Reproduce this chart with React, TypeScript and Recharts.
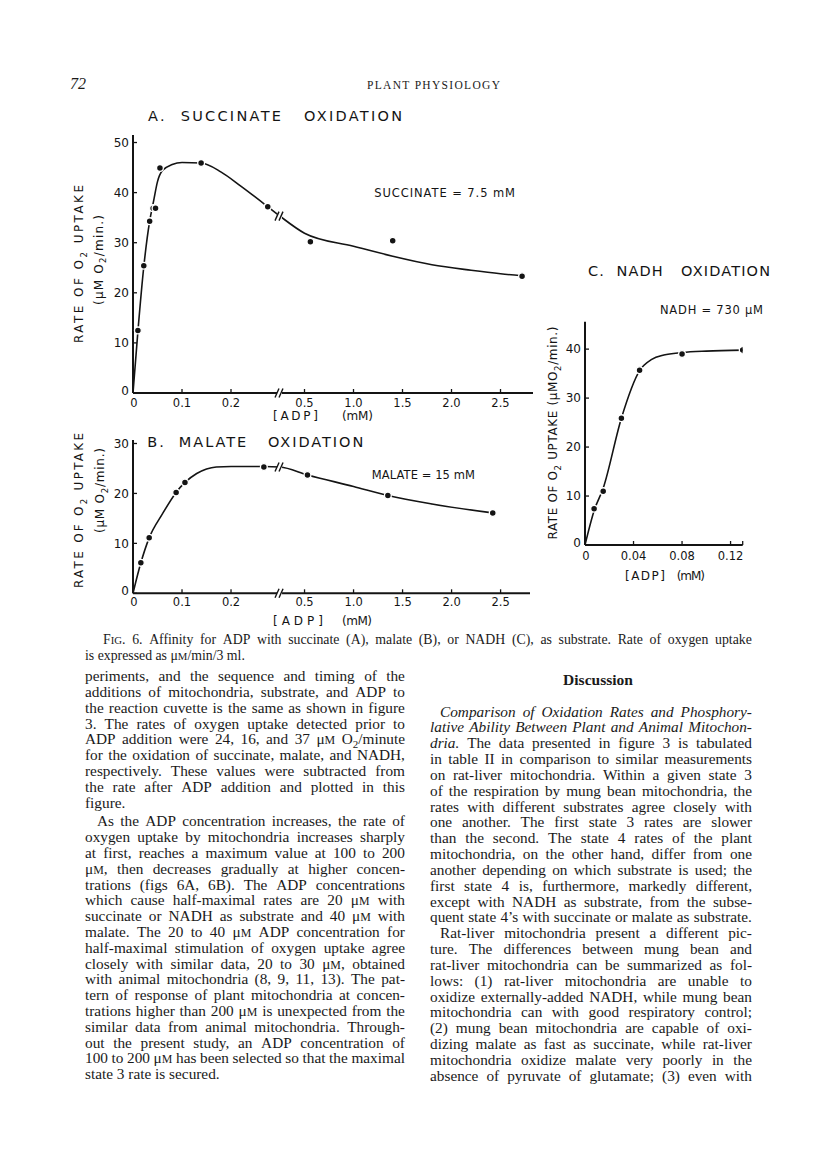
import React from 'react';
import { LineChart, Line, XAxis, YAxis } from 'recharts';

// ---------------- Panel A: succinate oxidation ----------------
const succinatePtsLeftX = [0.010, 0.022, 0.034, 0.041, 0.046, 0.055, 0.139, 0.275];
const succinatePtsLeftY = [12.5, 25.4, 34.3, 36.9, 36.9, 44.9, 45.9, 37.2];
const succinatePtsRightX = [0.56, 1.40, 2.72];
const succinatePtsRightY = [30.2, 30.4, 23.3];
const succinateCurveLeftX = [0, 0.01, 0.022, 0.034, 0.042, 0.05, 0.06, 0.08, 0.1, 0.139, 0.18, 0.22, 0.275, 0.3];
const succinateCurveLeftY = [0, 12.3, 25.2, 34.3, 38.3, 42.2, 44.4, 45.6, 46.0, 45.9, 44.1, 41.3, 37.2, 35.3];
const succinateCurveRightX = [0.5, 1.0, 1.4, 1.8, 2.2, 2.5, 2.72];
const succinateCurveRightY = [31.9, 29.3, 27.3, 25.6, 24.5, 23.8, 23.4];

// ---------------- Panel B: malate oxidation ----------------
const malatePtsLeftX = [0.016, 0.033, 0.088, 0.106, 0.267];
const malatePtsLeftY = [6.1, 11.1, 20.2, 22.2, 25.3];
const malatePtsRightX = [0.53, 1.35, 2.42];
const malatePtsRightY = [23.7, 19.6, 16.1];
const malateCurveLeftX = [0, 0.016, 0.033, 0.06, 0.088, 0.106, 0.13, 0.15, 0.17, 0.2, 0.267, 0.3];
const malateCurveLeftY = [0, 6.1, 11.1, 15.9, 20.2, 22.2, 24.0, 24.9, 25.3, 25.4, 25.4, 25.3];
const malateCurveRightX = [0.53, 1.0, 1.35, 1.8, 2.42];
const malateCurveRightY = [23.7, 21.4, 19.6, 17.9, 16.1];

// ---------------- Panel C: NADH oxidation ----------------
const nadhPtsX = [0.0075, 0.015, 0.03, 0.045, 0.08, 0.13];
const nadhPtsY = [7.4, 11.0, 25.9, 35.7, 39.0, 39.8];
const nadhCurveX = [0, 0.0075, 0.015, 0.03, 0.045, 0.055, 0.065, 0.08, 0.1, 0.13];
const nadhCurveY = [0, 7.0, 11.6, 25.9, 35.6, 37.9, 38.8, 39.3, 39.6, 39.8];

// ---------------- Axis ticks ----------------
const adpLeftTicks = [0, 0.1, 0.2];
const adpLeftLabels = ['0', '0.1', '0.2'];
const adpRightTicks = [0.5, 1.0, 1.5, 2.0, 2.5];
const adpRightLabels = ['0.5', '1.0', '1.5', '2.0', '2.5'];
const nadhXTicks = [0, 0.04, 0.08, 0.12, 0.13];
const nadhXLabels = ['0', '0.04', '0.08', '0.12', ''];
const succinateYTicks = [0, 10, 20, 30, 40, 50];
const malateYTicks = [0, 10, 20, 30];
const nadhYTicks = [0, 10, 20, 30, 40];

// broken x axis: left part linear in mM, right part compressed 5x
const BREAK_U = 0.3;
const BREAK_MM = 0.25;
const RIGHT_FACTOR = 5;
const uL = (x: number) => x;
const uR = (x: number) => BREAK_U + (x - BREAK_MM) / RIGHT_FACTOR;

type Pt = { u: number; v: number; brk?: boolean };
function buildSeries(lx: number[], ly: number[], rx: number[], ry: number[]): Pt[] {
  const a: Pt[] = lx.map((x, i) => ({ u: uL(x), v: ly[i], brk: Math.abs(x - BREAK_U) < 1e-9 }));
  const b: Pt[] = rx.map((x, i) => ({ u: uR(x), v: ry[i] }));
  return [...a, ...b];
}
const succinatePts = buildSeries(succinatePtsLeftX, succinatePtsLeftY, succinatePtsRightX, succinatePtsRightY).map(p => ({ ...p, brk: false }));
const succinateCurve = buildSeries(succinateCurveLeftX, succinateCurveLeftY, succinateCurveRightX, succinateCurveRightY);
const malatePts = buildSeries(malatePtsLeftX, malatePtsLeftY, malatePtsRightX, malatePtsRightY).map(p => ({ ...p, brk: false }));
const malateCurve = buildSeries(malateCurveLeftX, malateCurveLeftY, malateCurveRightX, malateCurveRightY);
const nadhPts: Pt[] = nadhPtsX.map((x, i) => ({ u: x, v: nadhPtsY[i] }));
const nadhCurve: Pt[] = nadhCurveX.map((x, i) => ({ u: x, v: nadhCurveY[i] }));

const adpTickU = [...adpLeftTicks.map(uL), BREAK_U, ...adpRightTicks.map(uR)];
const adpTickLab = [...adpLeftLabels, '//', ...adpRightLabels];

const SANS = '"DejaVu Sans", "Noto Sans", sans-serif';
const SERIF = '"Liberation Serif", "Times New Roman", serif';
const INK = '#141414';
const TXT = '#1a1a1a';

function labelFor(v: number, ticks: number[], labels: string[]): string {
  const i = ticks.findIndex(t => Math.abs(t - v) < 1e-7);
  return i >= 0 ? labels[i] : '';
}

function Slashes({ x, y }: { x: number; y: number }) {
  return (
    <g>
      <rect x={x - 3} y={y - 2.5} width={5} height={5} fill="#fff" />
      <line x1={x - 5} y1={y + 4.5} x2={x - 1} y2={y - 4.5} stroke={INK} strokeWidth={1.4} />
      <line x1={x - 1} y1={y + 4.5} x2={x + 3} y2={y - 4.5} stroke={INK} strokeWidth={1.4} />
    </g>
  );
}

function makeXTick(ticks: number[], labels: string[], labelDy: number) {
  return (props: any) => {
    const { x, y, payload } = props;
    const lab = labelFor(payload.value, ticks, labels);
    if (lab === '//') return <Slashes x={x} y={y} />;
    return (
      <g>
        <line x1={x} y1={y} x2={x} y2={y - 4} stroke={INK} strokeWidth={1.3} />
        {lab ? (
          <text x={payload.value === 0 ? x + 1 : x} y={y + labelDy} textAnchor="middle" fontFamily={SANS} fontSize={11.5} fill={INK}>{lab}</text>
        ) : null}
      </g>
    );
  };
}

function makeYTick() {
  return (props: any) => {
    const { x, y, payload } = props;
    return (
      <g>
        <line x1={x} y1={y} x2={x + 4} y2={y} stroke={INK} strokeWidth={1.3} />
        <text x={x - 4} y={y + (payload.value === 0 ? 2 : 4.3)} textAnchor="end" fontFamily={SANS} fontSize={12} fill={INK}>{payload.value}</text>
      </g>
    );
  };
}

const breakDot = (props: any) => {
  const { cx, cy, payload, index } = props;
  if (!payload || !payload.brk) return <g key={`d${index}`} />;
  return <g key={`d${index}`}><Slashes x={cx} y={cy} /></g>;
};

const ptDot = { r: 3.4, fill: INK, stroke: '#fff', strokeWidth: 1.3 };

type PanelProps = {
  left: number; top: number; width: number; height: number;
  margin: { top: number; right: number; bottom: number; left: number };
  yWidth: number; xMax: number; yMax: number;
  xTicks: number[]; xLabels: string[]; yTicks: number[]; labelDy: number;
  curve: Pt[]; pts: Pt[];
};

function Panel(p: PanelProps) {
  return (
    <div style={{ position: 'absolute', left: p.left, top: p.top }}>
      <LineChart width={p.width} height={p.height} margin={p.margin}>
        <XAxis
          type="number" dataKey="u" domain={[0, p.xMax]} ticks={p.xTicks} interval={0}
          allowDataOverflow tickLine={false} tickSize={0} tickMargin={0} height={30}
          axisLine={{ stroke: INK, strokeWidth: 2 }}
          tick={makeXTick(p.xTicks, p.xLabels, p.labelDy)}
        />
        <YAxis
          type="number" domain={[0, p.yMax]} ticks={p.yTicks} interval={0}
          allowDataOverflow tickLine={false} tickSize={0} tickMargin={0} width={p.yWidth}
          axisLine={{ stroke: INK, strokeWidth: 2 }}
          tick={makeYTick()}
        />
        <Line data={p.curve} dataKey="v" type="monotone" stroke={INK} strokeWidth={1.6}
          dot={breakDot} activeDot={false} isAnimationActive={false} />
        <Line data={p.pts} dataKey="v" stroke="none" dot={ptDot}
          activeDot={false} isAnimationActive={false} />
      </LineChart>
    </div>
  );
}

// ---------------- Page text ----------------
type L = { t: string; indent?: number; last?: boolean; it?: number };
const leftColumn: L[] = [
  { t: 'periments, and the sequence and timing of the' },
  { t: 'additions of mitochondria, substrate, and ADP to' },
  { t: 'the reaction cuvette is the same as shown in figure' },
  { t: '3. The rates of oxygen uptake detected prior to' },
  { t: 'ADP addition were 24, 16, and 37 μM O₂/minute' },
  { t: 'for the oxidation of succinate, malate, and NADH,' },
  { t: 'respectively. These values were subtracted from' },
  { t: 'the rate after ADP addition and plotted in this' },
  { t: 'figure.', last: true },
  { t: 'As the ADP concentration increases, the rate of', indent: 12 },
  { t: 'oxygen uptake by mitochondria increases sharply' },
  { t: 'at first, reaches a maximum value at 100 to 200' },
  { t: 'μM, then decreases gradually at higher concen-' },
  { t: 'trations (figs 6A, 6B). The ADP concentrations' },
  { t: 'which cause half-maximal rates are 20 μM with' },
  { t: 'succinate or NADH as substrate and 40 μM with' },
  { t: 'malate. The 20 to 40 μM ADP concentration for' },
  { t: 'half-maximal stimulation of oxygen uptake agree' },
  { t: 'closely with similar data, 20 to 30 μM, obtained' },
  { t: 'with animal mitochondria (8, 9, 11, 13). The pat-' },
  { t: 'tern of response of plant mitochondria at concen-' },
  { t: 'trations higher than 200 μM is unexpected from the' },
  { t: 'similar data from animal mitochondria. Through-' },
  { t: 'out the present study, an ADP concentration of' },
  { t: '100 to 200 μM has been selected so that the maximal' },
  { t: 'state 3 rate is secured.', last: true },
];
const rightColumn: L[] = [
  { t: 'Comparison of Oxidation Rates and Phosphory-', indent: 10, it: 99 },
  { t: 'lative Ability Between Plant and Animal Mitochon-', it: 99 },
  { t: 'dria. The data presented in figure 3 is tabulated', it: 1 },
  { t: 'in table II in comparison to similar measurements' },
  { t: 'on rat-liver mitochondria. Within a given state 3' },
  { t: 'of the respiration by mung bean mitochondria, the' },
  { t: 'rates with different substrates agree closely with' },
  { t: 'one another. The first state 3 rates are slower' },
  { t: 'than the second. The state 4 rates of the plant' },
  { t: 'mitochondria, on the other hand, differ from one' },
  { t: 'another depending on which substrate is used; the' },
  { t: 'first state 4 is, furthermore, markedly different,' },
  { t: 'except with NADH as substrate, from the subse-' },
  { t: 'quent state 4\u2019s with succinate or malate as substrate.' },
  { t: 'Rat-liver mitochondria present a different pic-', indent: 10 },
  { t: 'ture. The differences between mung bean and' },
  { t: 'rat-liver mitochondria can be summarized as fol-' },
  { t: 'lows: (1) rat-liver mitochondria are unable to' },
  { t: 'oxidize externally-added NADH, while mung bean' },
  { t: 'mitochondria can with good respiratory control;' },
  { t: '(2) mung bean mitochondria are capable of oxi-' },
  { t: 'dizing malate as fast as succinate, while rat-liver' },
  { t: 'mitochondria oxidize malate very poorly in the' },
  { t: 'absence of pyruvate of glutamate; (3) even with' },
];
const captionLine1 = 'Fig. 6. Affinity for ADP with succinate (A), malate (B), or NADH (C), as substrate.  Rate of oxygen uptake';
const captionLine2 = 'is expressed as μM/min/3 ml.';

let ctx: CanvasRenderingContext2D | null = null;
function measure(text: string, font: string): number {
  if (typeof document === 'undefined') return text.length * 6;
  if (!ctx) ctx = document.createElement('canvas').getContext('2d');
  if (!ctx) return text.length * 6;
  ctx.font = font;
  return ctx.measureText(text).width;
}

function richWord(w: string, fs: number) {
  const parts = w.split(/(O₂|μM|^Fig\.)/).filter(x => x !== '');
  return parts.map((seg, i) => {
    if (seg === 'O₂') return <React.Fragment key={i}>O<span style={{ fontSize: fs * 0.72, position: 'relative', top: fs * 0.22 }}>2</span></React.Fragment>;
    if (seg === 'μM') return <React.Fragment key={i}>μ<span style={{ fontSize: fs * 0.78 }}>M</span></React.Fragment>;
    if (seg === 'Fig.') return <React.Fragment key={i}>F<span style={{ fontSize: fs * 0.78 }}>IG</span>.</React.Fragment>;
    return <React.Fragment key={i}>{seg}</React.Fragment>;
  });
}

function JLine({ l, x, baseline, width, fs }: { l: L; x: number; baseline: number; width: number; fs: number }) {
  const words = l.t.split(/\s+/);
  const gaps = words.length - 1;
  const font = `${fs}px "Liberation Serif"`;
  const ifont = `italic ${fs}px "Liberation Serif"`;
  const it = l.it || 0;
  let wordsW = 0;
  let chars = 0;
  words.forEach((w, i) => { wordsW += measure(w.replace('₂', '2'), i < it ? ifont : font); chars += w.length; });
  const minGap = fs * 0.2;
  let ls = 0;
  if (!l.last && wordsW + gaps * minGap > width) ls = (width - gaps * minGap - wordsW) / chars;
  return (
    <div style={{
      position: 'absolute', left: x, top: baseline - fs * 0.84, width: l.last ? undefined : width,
      display: 'flex', justifyContent: l.last ? 'flex-start' : 'space-between', columnGap: l.last ? fs * 0.25 : 0,
      whiteSpace: 'nowrap', fontFamily: SERIF, fontSize: fs, lineHeight: `${fs}px`, letterSpacing: ls, color: TXT,
    }}>
      {words.map((w, i) => (
        <span key={i} style={{ fontStyle: i < it ? 'italic' : 'normal' }}>{richWord(w, fs)}</span>
      ))}
    </div>
  );
}

function Column({ lines, x0, x1, y0, step, gapAfter, fs }: { lines: L[]; x0: number; x1: number; y0: number; step: number; gapAfter?: number; fs: number }) {
  let y = y0;
  return (
    <>
      {lines.map((l, i) => {
        const yy = y;
        y += step + (gapAfter !== undefined && i === gapAfter ? 3 : 0);
        const x = x0 + (l.indent || 0);
        return <JLine key={i} l={l} x={x} baseline={yy} width={x1 - x} fs={fs} />;
      })}
    </>
  );
}

function rich(s: string, fs: number) {
  const parts = s.split(/(O₂)/).filter(x => x !== '');
  const out: React.ReactNode[] = [];
  let pending = 0;
  parts.forEach((seg, i) => {
    if (seg === 'O₂') {
      const d = fs * 0.28;
      out.push(<tspan key={i}><tspan dy={pending ? -pending : 0}>O</tspan><tspan dy={d} fontSize={fs * 0.72}>2</tspan></tspan>);
      pending = d;
      return;
    }
    out.push(<tspan key={i} dy={pending ? -pending : undefined}>{seg}</tspan>);
    pending = 0;
  });
  return out;
}

type T = { t: string; x: number; y: number; w?: number; fs: number };
const panelTexts: T[] = [
  { t: 'A.  SUCCINATE   OXIDATION', x: 148, y: 120.7, w: 254, fs: 14.5 },
  { t: 'SUCCINATE = 7.5 mM', x: 374.3, y: 196.7, w: 140.7, fs: 11.5 },
  { t: '[ADP]', x: 273, y: 420, w: 45, fs: 12 },
  { t: '(mM)', x: 342, y: 420, w: 31, fs: 12 },
  { t: 'B.  MALATE   OXIDATION', x: 147.3, y: 446.7, w: 216, fs: 14.5 },
  { t: 'MALATE = 15 mM', x: 371.7, y: 479.3, w: 103.3, fs: 11.5 },
  { t: '[ADP]', x: 273, y: 625, w: 50, fs: 12 },
  { t: '(mM)', x: 342, y: 625, w: 30, fs: 12 },
  { t: 'C.  NADH   OXIDATION', x: 588, y: 275.5, w: 182, fs: 14.5 },
  { t: 'NADH = 730 μM', x: 660, y: 314, w: 103, fs: 11.5 },
  { t: '[ADP]', x: 625, y: 580, w: 40, fs: 12 },
  { t: '(mM)', x: 676.7, y: 580, w: 28.3, fs: 12 },
];
type R = { t: string; cx: number; cy: number; len: number; fs: number };
const rotTexts: R[] = [
  { t: 'RATE OF O₂ UPTAKE', cx: 79, cy: 264, len: 158, fs: 12 },
  { t: '(μM O₂/min.)', cx: 98.5, cy: 260, len: 90, fs: 12 },
  { t: 'RATE OF O₂ UPTAKE', cx: 79, cy: 510.5, len: 155, fs: 12 },
  { t: '(μM O₂/min.)', cx: 100, cy: 490.5, len: 85, fs: 12 },
  { t: 'RATE OF O₂ UPTAKE (μMO₂/min.)', cx: 553, cy: 433, len: 213, fs: 12 },
];

function Overlay() {
  return (
    <svg width={816} height={1152} style={{ position: 'absolute', left: 0, top: 0 }}>
      <text x={70} y={89} fontFamily={SERIF} fontStyle="italic" fontSize={16} fill={TXT}>72</text>
      <text x={367} y={89} fontFamily={SERIF} fontSize={11.5} textLength={133} lengthAdjust="spacing" fill={TXT}>PLANT PHYSIOLOGY</text>
      {panelTexts.map((p, i) => (
        <text key={i} x={p.x} y={p.y} fontFamily={SANS} fontSize={p.fs} fill={INK} style={{ whiteSpace: 'pre' }}
          {...(p.w ? { textLength: p.w, lengthAdjust: 'spacing' } : {})}>
          {rich(p.t, p.fs)}
        </text>
      ))}
      {rotTexts.map((r, i) => (
        <text key={i} x={r.cx} y={r.cy + r.fs * 0.36} textAnchor="middle" fontFamily={SANS} fontSize={r.fs} fill={INK}
          textLength={r.len} lengthAdjust="spacing" transform={`rotate(-90 ${r.cx} ${r.cy})`}>
          {rich(r.t, r.fs)}
        </text>
      ))}
      <text x={598} y={685} textAnchor="middle" fontFamily={SERIF} fontWeight="bold" fontSize={15.5} fill={TXT}>Discussion</text>
    </svg>
  );
}

export default function App() {
  return (
    <div style={{ position: 'absolute', left: 0, top: 0, width: 816, height: 1152, background: '#fff' }}>
      <Overlay />
      <JLine l={{ t: captionLine1 }} x={103} baseline={644.5} width={649} fs={13.8} />
      <JLine l={{ t: captionLine2, last: true }} x={85} baseline={660.5} width={300} fs={13.8} />
      <Column lines={leftColumn} x0={85} x1={405} y0={681} step={15.8} gapAfter={8} fs={15.3} />
      <Column lines={rightColumn} x0={430} x1={752} y0={716.5} step={15.83} fs={15.3} />
      <Panel left={0} top={0} width={560} height={430}
        margin={{ top: 135, right: 27, bottom: 7, left: 0 }} yWidth={133}
        xMax={0.8163} yMax={51.5} xTicks={adpTickU} xLabels={adpTickLab} yTicks={succinateYTicks}
        labelDy={13.5} curve={succinateCurve} pts={succinatePts} />
      <Panel left={0} top={420} width={560} height={220}
        margin={{ top: 20, right: 30, bottom: 16.7, left: 0 }} yWidth={133}
        xMax={0.81} yMax={30.7} xTicks={adpTickU} xLabels={adpTickLab} yTicks={malateYTicks}
        labelDy={12.5} curve={malateCurve} pts={malatePts} />
      <Panel left={530} top={250} width={240} height={350}
        margin={{ top: 71.7, right: 27.3, bottom: 25, left: 0 }} yWidth={55}
        xMax={0.13} yMax={45.6} xTicks={nadhXTicks} xLabels={nadhXLabels} yTicks={nadhYTicks}
        labelDy={14.5} curve={nadhCurve} pts={nadhPts} />
    </div>
  );
}
